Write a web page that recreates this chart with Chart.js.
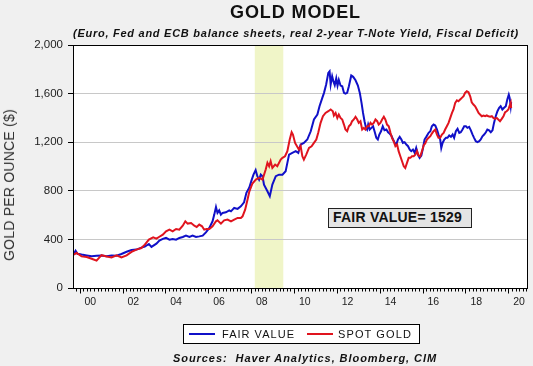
<!DOCTYPE html>
<html>
<head>
<meta charset="utf-8">
<script src="https://cdn.jsdelivr.net/npm/chart.js@4.4.1/dist/chart.umd.min.js"></script>
<style>
  html, body { margin: 0; padding: 0; background: #f0f0f0; }
  #wrap { position: relative; width: 533px; height: 366px; overflow: hidden;
          font-family: "Liberation Sans", Arial, sans-serif; color: #111; }
  #chart { position: absolute; left: 0; top: 0; }
  .txt { position: absolute; white-space: nowrap; line-height: 1; }
  #title { left: 230px; top: 3px; font-size: 18px; font-weight: bold; }
  #subtitle { left: 73px; top: 28px; font-size: 11px; font-weight: bold; font-style: italic; }
  #sources { left: 173px; top: 353px; font-size: 11px; font-weight: bold; font-style: italic; }
  #ytitle { left: 9px; top: 185px; font-size: 14px; color: #333;
            transform: translate(-50%, -50%) rotate(-90deg); }
  #legend { position: absolute; left: 183px; top: 324px; width: 237px; height: 20px;
            box-sizing: border-box; border: 1px solid #000; background: #fff; }
  .swatch { position: absolute; height: 2px; }
  .legtxt { font-size: 11px; color: #111; }
  #note { position: absolute; left: 328px; top: 208px; width: 144px; height: 20px;
          box-sizing: border-box; border: 1px solid #222; background: #e4e4e4; }
  #notetxt { left: 333px; top: 210px; font-size: 14px; font-weight: bold; }
</style>
</head>
<body>
<div id="wrap">
  <canvas id="chart" width="533" height="366"></canvas>
  <div class="txt" id="title">GOLD MODEL</div>
  <div class="txt" id="subtitle">(Euro, Fed and ECB balance sheets, real 2-year T-Note Yield, Fiscal Deficit)</div>
  <div class="txt" id="ytitle">GOLD PER OUNCE ($)</div>
  <div id="note"></div>
  <div class="txt" id="notetxt"></div>
  <div id="legend"></div>
  <div class="txt" id="sources">Sources:&nbsp; Haver Analytics, Bloomberg, CIM</div>
</div>
<script>
// fair value (model) and spot gold, year as decimal
const fairYears = [1999.71, 1999.81, 1999.90, 2000.09, 2000.33, 2000.56, 2000.79, 2001.02, 2001.26, 2001.49,
  2001.72, 2001.95, 2002.19, 2002.42, 2002.65, 2002.88, 2003.04, 2003.23, 2003.35, 2003.58,
  2003.72, 2003.88, 2004.03, 2004.19, 2004.34, 2004.50, 2004.65, 2004.81, 2004.96, 2005.12,
  2005.27, 2005.43, 2005.58, 2005.74, 2005.89, 2006.05, 2006.20, 2006.28, 2006.36, 2006.43,
  2006.51, 2006.59, 2006.67, 2006.82, 2006.98, 2007.06, 2007.21, 2007.37, 2007.52, 2007.67,
  2007.78, 2007.91, 2008.03, 2008.11, 2008.21, 2008.29, 2008.37, 2008.45, 2008.53, 2008.60,
  2008.76, 2008.87, 2008.99, 2009.15, 2009.30, 2009.46, 2009.61, 2009.69, 2009.77, 2009.92,
  2010.08, 2010.20, 2010.31, 2010.46, 2010.62, 2010.78, 2010.93, 2011.09, 2011.19, 2011.32,
  2011.40, 2011.50, 2011.60, 2011.66, 2011.71, 2011.78, 2011.84, 2011.90, 2011.97, 2012.03,
  2012.09, 2012.17, 2012.25, 2012.33, 2012.40, 2012.48, 2012.56, 2012.67, 2012.76, 2012.87,
  2012.98, 2013.07, 2013.15, 2013.22, 2013.29, 2013.36, 2013.41, 2013.46, 2013.53, 2013.61,
  2013.69, 2013.77, 2013.84, 2013.91, 2013.98, 2014.06, 2014.14, 2014.22, 2014.31, 2014.39,
  2014.46, 2014.54, 2014.62, 2014.70, 2014.77, 2014.85, 2014.93, 2015.01, 2015.08, 2015.16,
  2015.24, 2015.32, 2015.40, 2015.47, 2015.55, 2015.63, 2015.70, 2015.78, 2015.86, 2015.94,
  2016.02, 2016.09, 2016.17, 2016.28, 2016.36, 2016.43, 2016.51, 2016.59, 2016.67, 2016.74,
  2016.82, 2016.87, 2016.93, 2017.01, 2017.09, 2017.16, 2017.24, 2017.32, 2017.40, 2017.47,
  2017.55, 2017.63, 2017.71, 2017.78, 2017.86, 2017.94, 2018.02, 2018.09, 2018.17, 2018.25,
  2018.33, 2018.40, 2018.48, 2018.56, 2018.64, 2018.71, 2018.79, 2018.87, 2018.95, 2019.02,
  2019.10, 2019.18, 2019.26, 2019.33, 2019.41, 2019.49, 2019.57, 2019.64, 2019.72, 2019.80,
  2019.88, 2019.95, 2020.02, 2020.06, 2020.11, 2020.13];
const fairValue = [274, 307, 282, 275, 268, 262, 265, 268, 262, 268,
  265, 280, 298, 312, 316, 332, 340, 362, 338, 365,
  390, 404, 412, 398, 404, 398, 412, 420, 431, 420,
  431, 420, 425, 431, 458, 494, 549, 604, 667, 618,
  639, 604, 618, 623, 639, 631, 659, 651, 672, 705,
  783, 825, 892, 933, 970, 920, 892, 933, 920, 851,
  796, 755, 851, 920, 933, 933, 961, 1030, 1098, 1112,
  1126, 1112, 1181, 1194, 1222, 1290, 1387, 1428, 1496, 1565,
  1606, 1675, 1771, 1784, 1675, 1743, 1700, 1670, 1725, 1665,
  1712, 1666, 1661, 1606, 1600, 1606, 1661, 1749, 1738, 1710,
  1666, 1606, 1524, 1441, 1373, 1318, 1304, 1345, 1304, 1318,
  1331, 1282, 1236, 1222, 1263, 1290, 1331, 1298, 1304, 1282,
  1271, 1254, 1222, 1194, 1181, 1222, 1244, 1222, 1194, 1200,
  1181, 1167, 1139, 1126, 1139, 1112, 1153, 1098, 1071, 1090,
  1153, 1222, 1244, 1277, 1290, 1331, 1345, 1337, 1304, 1263,
  1222, 1153, 1194, 1222, 1236, 1236, 1255, 1244, 1263, 1236,
  1290, 1310, 1277, 1282, 1304, 1331, 1331, 1318, 1326, 1298,
  1263, 1236, 1208, 1200, 1208, 1222, 1249, 1263, 1282, 1304,
  1298, 1282, 1298, 1359, 1414, 1455, 1483, 1496, 1469, 1483,
  1496, 1551, 1592, 1565, 1496, 1529];

const spotYears = [1999.71, 1999.86, 2000.09, 2000.33, 2000.56, 2000.79, 2001.02, 2001.26, 2001.49, 2001.72,
  2001.95, 2002.19, 2002.42, 2002.65, 2002.88, 2003.04, 2003.23, 2003.43, 2003.58, 2003.72,
  2003.88, 2004.03, 2004.19, 2004.34, 2004.50, 2004.65, 2004.81, 2004.93, 2005.04, 2005.20,
  2005.35, 2005.46, 2005.58, 2005.71, 2005.81, 2005.92, 2006.05, 2006.20, 2006.36, 2006.43,
  2006.59, 2006.74, 2006.90, 2007.06, 2007.21, 2007.37, 2007.52, 2007.60, 2007.72, 2007.83,
  2007.91, 2008.06, 2008.22, 2008.37, 2008.53, 2008.68, 2008.76, 2008.84, 2008.91, 2008.99,
  2009.12, 2009.22, 2009.38, 2009.46, 2009.58, 2009.69, 2009.80, 2009.89, 2009.95, 2010.05,
  2010.16, 2010.23, 2010.31, 2010.39, 2010.46, 2010.57, 2010.70, 2010.82, 2010.93, 2011.04,
  2011.13, 2011.24, 2011.35, 2011.47, 2011.60, 2011.71, 2011.81, 2011.86, 2011.94, 2012.02,
  2012.09, 2012.17, 2012.25, 2012.33, 2012.40, 2012.48, 2012.56, 2012.64, 2012.71, 2012.79,
  2012.87, 2012.95, 2013.02, 2013.10, 2013.18, 2013.26, 2013.33, 2013.41, 2013.49, 2013.57,
  2013.64, 2013.72, 2013.80, 2013.88, 2013.95, 2014.03, 2014.11, 2014.19, 2014.26, 2014.34,
  2014.42, 2014.50, 2014.57, 2014.65, 2014.73, 2014.81, 2014.88, 2014.96, 2015.04, 2015.12,
  2015.19, 2015.27, 2015.35, 2015.43, 2015.50, 2015.58, 2015.66, 2015.74, 2015.81, 2015.89,
  2015.97, 2016.05, 2016.12, 2016.20, 2016.28, 2016.36, 2016.43, 2016.51, 2016.59, 2016.67,
  2016.74, 2016.82, 2016.90, 2016.98, 2017.05, 2017.13, 2017.21, 2017.29, 2017.37, 2017.44,
  2017.52, 2017.60, 2017.67, 2017.75, 2017.83, 2017.91, 2017.98, 2018.06, 2018.14, 2018.22,
  2018.29, 2018.37, 2018.45, 2018.53, 2018.61, 2018.68, 2018.76, 2018.84, 2018.92, 2018.99,
  2019.07, 2019.15, 2019.23, 2019.30, 2019.38, 2019.46, 2019.53, 2019.61, 2019.69, 2019.77,
  2019.85, 2019.92, 2020.00, 2020.05, 2020.11, 2020.13];
const spotGold = [274, 288, 260, 255, 241, 225, 270, 260, 252, 269,
  252, 269, 297, 316, 329, 357, 398, 417, 406, 422,
  439, 466, 480, 466, 486, 480, 513, 549, 530, 535,
  513, 502, 522, 508, 480, 486, 486, 508, 549, 557,
  530, 557, 563, 549, 563, 577, 577, 590, 645, 727,
  790, 860, 892, 906, 892, 975, 1030, 1002, 1043, 988,
  1016, 1002, 1057, 1071, 1084, 1126, 1222, 1282, 1263, 1194,
  1161, 1139, 1167, 1084, 1057, 1098, 1153, 1167, 1194, 1222,
  1277, 1359, 1414, 1441, 1455, 1469, 1455, 1420, 1441, 1400,
  1428, 1400, 1387, 1345, 1304, 1290, 1331, 1345, 1373, 1387,
  1409, 1387, 1359, 1373, 1304, 1318, 1304, 1331, 1331, 1359,
  1345, 1359, 1387, 1373, 1345, 1359, 1387, 1409, 1387, 1345,
  1331, 1277, 1236, 1208, 1167, 1181, 1126, 1084, 1043, 1002,
  988, 1030, 1071, 1071, 1084, 1084, 1098, 1126, 1090, 1084,
  1126, 1175, 1190, 1222, 1236, 1249, 1271, 1290, 1304, 1263,
  1236, 1236, 1263, 1277, 1304, 1331, 1359, 1400, 1441, 1469,
  1524, 1545, 1537, 1551, 1565, 1578, 1606, 1620, 1611, 1578,
  1529, 1510, 1496, 1469, 1441, 1428, 1414, 1420, 1414, 1420,
  1414, 1409, 1414, 1400, 1392, 1400, 1387, 1373, 1392, 1414,
  1447, 1455, 1469, 1496, 1524, 1480];

const seriesNames = ['FAIR VALUE', 'SPOT GOLD'];
const seriesColors = ['#1010c8', '#e0141e'];
const yTicks = [0, 400, 800, 1200, 1600, 2000];
const xLabelYears = [2000, 2002, 2004, 2006, 2008, 2010, 2012, 2014, 2016, 2018, 2020];
const recession = [2008.17, 2009.5];
const lastFair = fairValue[fairValue.length - 1];

const xMin = 1999.69, xMax = 2020.88;

const toPoints = (xs, ys) => xs.map((x, i) => ({ x: x, y: ys[i] }));

// white plot area, shading, frame and the year tick marks
const framePlugin = {
  id: 'frame',
  beforeDraw(chart) {
    const { ctx, chartArea: a, scales: { x } } = chart;
    ctx.save();
    ctx.fillStyle = '#ffffff';
    ctx.fillRect(a.left, a.top, a.right - a.left, a.bottom - a.top);
    const x0 = x.getPixelForValue(recession[0]);
    const x1 = x.getPixelForValue(recession[1]);
    ctx.fillStyle = '#f0f5c8';
    ctx.fillRect(x0, a.top, x1 - x0, a.bottom - a.top);
    ctx.restore();
  },
  afterDraw(chart) {
    const { ctx, chartArea: a, scales: { x } } = chart;
    ctx.save();
    ctx.strokeStyle = '#000';
    ctx.lineWidth = 1;
    ctx.strokeRect(Math.round(a.left) + 0.5, Math.round(a.top) + 0.5,
                   Math.round(a.right - a.left), Math.round(a.bottom - a.top));
    ctx.beginPath();
    const yb = Math.round(a.bottom) + 0.5;
    for (let yr = 1999; yr <= 2020; yr++) {
      for (let k = 0; k < 6; k++) {
        const v = yr + k / 6;
        if (v < xMin || v > xMax) continue;
        const px = Math.round(x.getPixelForValue(v)) + 0.5;
        const len = (k === 0 && yr % 2 === 0) ? 5 : 3;
        ctx.moveTo(px, yb);
        ctx.lineTo(px, yb + len);
      }
    }
    ctx.stroke();
    ctx.restore();
  }
};

new Chart(document.getElementById('chart'), {
  type: 'line',
  data: {
    datasets: [
      { label: seriesNames[0], data: toPoints(fairYears, fairValue), borderColor: seriesColors[0],
        borderWidth: 2, pointRadius: 0, tension: 0, order: 1 },
      { label: seriesNames[1], data: toPoints(spotYears, spotGold), borderColor: seriesColors[1],
        borderWidth: 2, pointRadius: 0, tension: 0, order: 0 }
    ]
  },
  options: {
    responsive: false,
    animation: false,
    devicePixelRatio: 1,
    layout: { padding: { left: 0, top: 45, right: 4, bottom: 58 } },
    plugins: { legend: { display: false }, tooltip: { enabled: false } },
    scales: {
      x: {
        type: 'linear', min: xMin, max: xMax,
        afterFit: s => { s.height = 20; },
        afterBuildTicks: s => { s.ticks = xLabelYears.map(y => ({ value: y + 0.5 })); },
        grid: { display: false, drawTicks: false },
        border: { display: true, color: '#000' },
        ticks: {
          autoSkip: false, maxRotation: 0, padding: 8, color: '#222',
          font: { family: 'Liberation Sans', size: 10.5 },
          callback: v => String(Math.floor(v) % 100).padStart(2, '0')
        }
      },
      y: {
        min: 0, max: 2000,
        afterFit: s => { s.width = 73; },
        afterBuildTicks: s => { s.ticks = yTicks.map(v => ({ value: v })); },
        grid: { color: '#c8c8c8', tickColor: '#000', tickLength: 5 },
        border: { display: true, color: '#000' },
        ticks: {
          padding: 5, color: '#222',
          font: { family: 'Liberation Sans', size: 11.5 },
          callback: v => v.toLocaleString('en-US')
        }
      }
    }
  },
  plugins: [framePlugin]
});

// legend and note (html)
const wrap = document.getElementById('wrap');
const legendPos = [{ line: 189, text: 222, w: 73 }, { line: 307, text: 338, w: 74 }];
seriesNames.forEach((name, i) => {
  const sw = document.createElement('div');
  sw.className = 'swatch';
  sw.style.cssText = `left:${legendPos[i].line}px;top:333px;width:26px;background:${seriesColors[i]}`;
  wrap.appendChild(sw);
  const t = document.createElement('div');
  t.className = 'txt legtxt';
  t.id = 'leg' + i;
  t.style.left = legendPos[i].text + 'px';
  t.style.top = '329px';
  t.textContent = name;
  wrap.appendChild(t);
});
document.getElementById('notetxt').textContent = 'FAIR VALUE= ' + lastFair;

// stretch text a bit to the reference widths
function fitWidth(el, w) {
  const n = el.textContent.length;
  const natural = el.getBoundingClientRect().width;
  el.style.letterSpacing = ((w - natural) / n) + 'px';
}
fitWidth(document.getElementById('title'), 131);
fitWidth(document.getElementById('subtitle'), 446);
fitWidth(document.getElementById('sources'), 264);
fitWidth(document.getElementById('notetxt'), 129);
fitWidth(document.getElementById('leg0'), 73);
fitWidth(document.getElementById('leg1'), 74);
const yt = document.getElementById('ytitle');
yt.style.letterSpacing = ((152 - yt.offsetWidth) / yt.textContent.length) + 'px';
</script>
</body>
</html>
